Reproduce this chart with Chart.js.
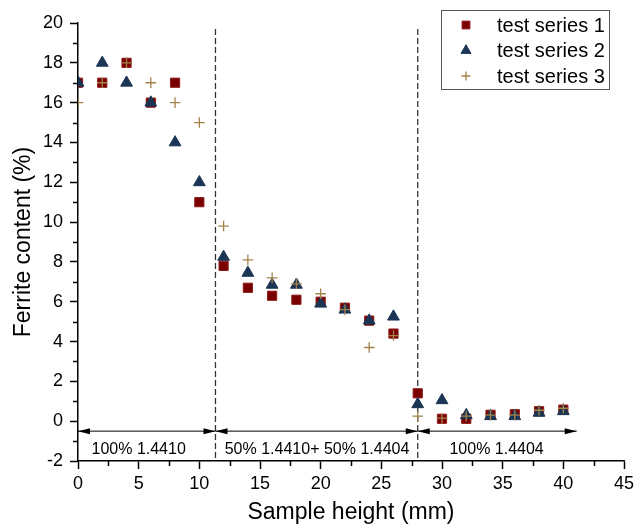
<!DOCTYPE html>
<html>
<head>
<meta charset="utf-8">
<script src="https://cdn.jsdelivr.net/npm/chart.js@4/dist/chart.umd.min.js"></script>
<style>
  html, body { margin: 0; padding: 0; background: #fff; }
  #wrap { width: 642px; height: 531px; }
</style>
</head>
<body>
<div id="wrap"><canvas id="grafico" width="642" height="531"></canvas></div>
<script>
// sample heights (mm)
var alturas = [0, 2, 4, 6, 8, 10, 12, 14, 16, 18, 20, 22, 24, 26, 28, 30, 32, 34, 36, 38, 40];

// ferrite content (%) per test series
var serie1 = [17, 17, 18, 16, 17, 11, 7.8, 6.7, 6.3, 6.1, 6.0, 5.7, 5.05, 4.4, 1.4, 0.12, 0.12, 0.32, 0.35, 0.5, 0.58];
var serie2 = [17, 18, 17, 16, 14, 12, 8.25, 7.45, 6.85, 6.85, 5.9, 5.6, 5.05, 5.25, 0.85, 1.05, 0.3, 0.25, 0.25, 0.42, 0.5];
var serie3 = [16, 17, 18, 17, 16, 15, 9.8, 8.1, 7.2, 6.9, 6.4, 5.6, 3.7, 4.3, 0.25, 0.15, 0.25, 0.3, 0.3, 0.55, 0.65];

var nomesSeries = ["test series 1", "test series 2", "test series 3"];

// region annotations
var divisorias = [11.33, 28];
var topoDivisoria = 19.7;
var nivelSetas = -0.5;
var faixas = [[0, 11.33], [11.33, 28], [28, 41.1]];
var rotulosFaixas = ["100% 1.4410", "50% 1.4410+ 50% 1.4404", "100% 1.4404"];
var centrosRotulos = [5.0, 19.7, 34.5];
var nivelRotulos = -1.42;

var fonte = "'Liberation Sans', Arial, sans-serif";

function pontos(valores)
{
    return alturas.map(function (x, i) { return { x: x, y: valores[i] }; });
}

var pluginRegioes = {
    id: 'regioes',
    beforeDatasetsDraw: function (chart) {
        var ctx = chart.ctx;
        var x = chart.scales.x, y = chart.scales.y;
        ctx.save();

        // dashed dividers
        ctx.strokeStyle = '#333';
        ctx.lineWidth = 1.3;
        ctx.setLineDash([6, 3]);
        divisorias.forEach(function (d) {
            var px = x.getPixelForValue(d);
            ctx.beginPath();
            ctx.moveTo(px, y.getPixelForValue(topoDivisoria));
            ctx.lineTo(px, y.getPixelForValue(-2) - 1);
            ctx.stroke();
        });
        ctx.setLineDash([]);

        // double arrows
        var ay = y.getPixelForValue(nivelSetas);
        ctx.strokeStyle = '#000';
        ctx.fillStyle = '#000';
        ctx.lineWidth = 1;
        faixas.forEach(function (f) {
            var a = x.getPixelForValue(f[0]), b = x.getPixelForValue(f[1]);
            ctx.beginPath();
            ctx.moveTo(a, ay);
            ctx.lineTo(b, ay);
            ctx.stroke();
            ctx.beginPath();
            ctx.moveTo(a, ay);
            ctx.lineTo(a + 12, ay - 3);
            ctx.lineTo(a + 12, ay + 3);
            ctx.closePath();
            ctx.fill();
            ctx.beginPath();
            ctx.moveTo(b, ay);
            ctx.lineTo(b - 12, ay - 3);
            ctx.lineTo(b - 12, ay + 3);
            ctx.closePath();
            ctx.fill();
        });

        // region labels
        ctx.font = '16px ' + fonte;
        ctx.textAlign = 'center';
        ctx.textBaseline = 'middle';
        var ly = y.getPixelForValue(nivelRotulos);
        rotulosFaixas.forEach(function (t, i) {
            ctx.fillText(t, x.getPixelForValue(centrosRotulos[i]), ly);
        });
        ctx.restore();
    },
    afterDraw: function (chart) {
        var ctx = chart.ctx;
        var area = chart.chartArea;
        var x = chart.scales.x, y = chart.scales.y;
        ctx.save();

        // minor ticks
        ctx.strokeStyle = '#000';
        ctx.lineWidth = 1.5;
        for (var v = -1; v < 20; v += 2) {
            var py = Math.round(y.getPixelForValue(v)) + 0.5;
            ctx.beginPath();
            ctx.moveTo(area.left - 5, py);
            ctx.lineTo(area.left, py);
            ctx.stroke();
        }
        for (var h = 2.5; h < 45; h += 5) {
            var px = Math.round(x.getPixelForValue(h)) + 0.5;
            ctx.beginPath();
            ctx.moveTo(px, area.bottom);
            ctx.lineTo(px, area.bottom + 5);
            ctx.stroke();
        }

        // legend box
        var bx = area.right - 183, by = area.top - 13, bw = 168, bh = 79;
        ctx.fillStyle = '#fff';
        ctx.fillRect(bx, by, bw, bh);
        ctx.strokeStyle = '#555';
        ctx.lineWidth = 1;
        ctx.strokeRect(bx + 0.5, by + 0.5, bw, bh);
        ctx.font = '20px ' + fonte;
        ctx.textAlign = 'left';
        ctx.textBaseline = 'middle';
        chart.data.datasets.forEach(function (ds, i) {
            var cy = by + 15 + i * 25.5;
            var cx = bx + 25;
            ctx.fillStyle = ds.pointBackgroundColor;
            ctx.strokeStyle = ds.pointBorderColor;
            ctx.lineWidth = ds.pointBorderWidth;
            Chart.helpers.drawPoint(ctx, {
                pointStyle: ds.pointStyle,
                radius: ds.pointRadius * 0.85,
                borderWidth: ds.pointBorderWidth,
                rotation: 0
            }, cx, cy);
            ctx.fillStyle = '#000';
            ctx.fillText(nomesSeries[i], bx + 56, cy + 1);
        });
        ctx.restore();
    }
};

var ctx = document.getElementById("grafico");
var grafico = new Chart(ctx, {
    type: 'scatter',
    data: {
        datasets: [
            {
                label: nomesSeries[0],
                data: pontos(serie1),
                pointStyle: 'rect',
                pointRadius: 6.5,
                pointBackgroundColor: '#7a0000',
                pointBorderColor: '#8e1a1a',
                pointBorderWidth: 1,
                order: 3,
                clip: 0
            },
            {
                label: nomesSeries[1],
                data: pontos(serie2),
                pointStyle: 'triangle',
                pointRadius: 6.8,
                pointBackgroundColor: '#1b3554',
                pointBorderColor: '#1b3554',
                pointBorderWidth: 1,
                order: 2,
                clip: 0
            },
            {
                label: nomesSeries[2],
                data: pontos(serie3),
                pointStyle: 'cross',
                pointRadius: 5.3,
                pointBackgroundColor: '#a3824a',
                pointBorderColor: '#a3824a',
                pointBorderWidth: 1.3,
                order: 1,
                clip: 0
            }
        ]
    },
    options: {
        responsive: false,
        animation: false,
        devicePixelRatio: 1,
        layout: { padding: { top: 23, right: 18, left: 0, bottom: 0 } },
        plugins: {
            legend: { display: false },
            tooltip: { enabled: false }
        },
        scales: {
            x: {
                type: 'linear',
                min: 0,
                max: 45,
                afterFit: function (s) { s.height = 70; },
                border: { display: true, color: '#000', width: 1.5 },
                grid: { display: true, drawOnChartArea: false, drawTicks: true, tickLength: 8, tickColor: '#000', tickWidth: 1.5 },
                ticks: { stepSize: 5, padding: 4, color: '#000', font: { family: fonte, size: 18 } },
                title: { display: true, text: 'Sample height (mm)', color: '#000', font: { family: fonte, size: 23 }, padding: { top: 0, bottom: 5 } }
            },
            y: {
                type: 'linear',
                min: -2,
                max: 20,
                afterFit: function (s) { s.width = 78; },
                border: { display: true, color: '#000', width: 1.5 },
                grid: { display: true, drawOnChartArea: false, drawTicks: true, tickLength: 8, tickColor: '#000', tickWidth: 1.5 },
                ticks: { stepSize: 2, padding: 7, color: '#000', font: { family: fonte, size: 18 } },
                title: { display: true, text: 'Ferrite content (%)', color: '#000', font: { family: fonte, size: 23 }, padding: { top: 10, bottom: 0 } }
            }
        }
    },
    plugins: [pluginRegioes]
});
</script>
</body>
</html>
